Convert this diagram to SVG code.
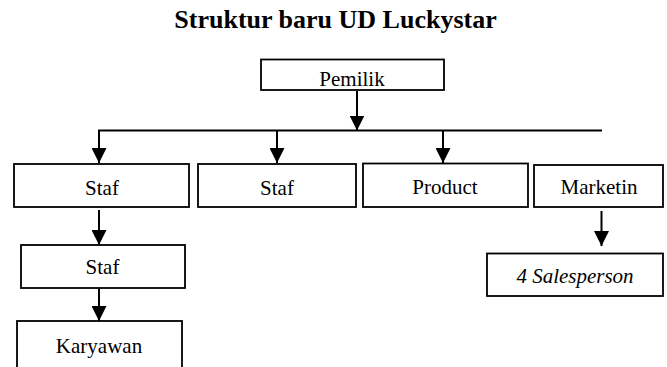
<svg xmlns="http://www.w3.org/2000/svg" width="667" height="367" viewBox="0 0 667 367">
<style>
.box{fill:#fff;stroke:#000;stroke-width:1.8}
.t{font-family:"Liberation Serif","Times New Roman",serif;font-size:21px;fill:#000;text-anchor:middle}
.it{font-style:italic}
.title{font-family:"Liberation Serif","Times New Roman",serif;font-size:26px;font-weight:bold;fill:#000;text-anchor:middle}
.ln{fill:none;stroke:#000;stroke-width:2}
</style>
<defs>
<marker id="ah" markerWidth="15" markerHeight="15" refX="15" refY="7.5" orient="auto" markerUnits="userSpaceOnUse">
<path d="M0,0 L15,7.5 L0,15 Z" fill="#000"/>
</marker>
</defs>
<rect width="667" height="367" fill="#fff"/>
<text class="title" x="335.5" y="27.5">Struktur baru UD Luckystar</text>
<g id="connectors">
<line class="ln" x1="357" y1="91" x2="357" y2="130.5" marker-end="url(#ah)"/>
<polyline class="ln" points="602,130.5 99,130.5 99,163" marker-end="url(#ah)"/>
<line class="ln" x1="277" y1="130.5" x2="277" y2="163" marker-end="url(#ah)"/>
<line class="ln" x1="443" y1="130.5" x2="443" y2="163" marker-end="url(#ah)"/>
<line class="ln" x1="99" y1="210" x2="99" y2="245" marker-end="url(#ah)"/>
<line class="ln" x1="99" y1="289" x2="99" y2="321" marker-end="url(#ah)"/>
<line class="ln" x1="601.5" y1="211" x2="601.5" y2="246" marker-end="url(#ah)"/>
</g>
<g id="pemilik"><rect class="box" x="261" y="59.5" width="183" height="30.5"/><text class="t" x="352" y="86">Pemilik</text></g>
<g id="staf1"><rect class="box" x="14" y="164" width="175" height="43"/><text class="t" x="102" y="195">Staf</text></g>
<g id="staf2"><rect class="box" x="198" y="164" width="158" height="43"/><text class="t" x="277" y="195">Staf</text></g>
<g id="product"><rect class="box" x="363" y="163.5" width="165" height="43.5"/><text class="t" x="445" y="194">Product</text></g>
<g id="marketin"><rect class="box" x="534" y="165" width="129" height="42"/><text class="t" x="599" y="194">Marketin</text></g>
<g id="staf3"><rect class="box" x="21" y="245" width="164" height="43"/><text class="t" x="102.5" y="274">Staf</text></g>
<g id="karyawan"><rect class="box" x="17" y="321" width="165" height="60"/><text class="t" x="99" y="353">Karyawan</text></g>
<g id="salesperson"><rect class="box" x="487" y="253.5" width="176" height="42.5"/><text class="t it" x="575" y="283">4 Salesperson</text></g>
</svg>
